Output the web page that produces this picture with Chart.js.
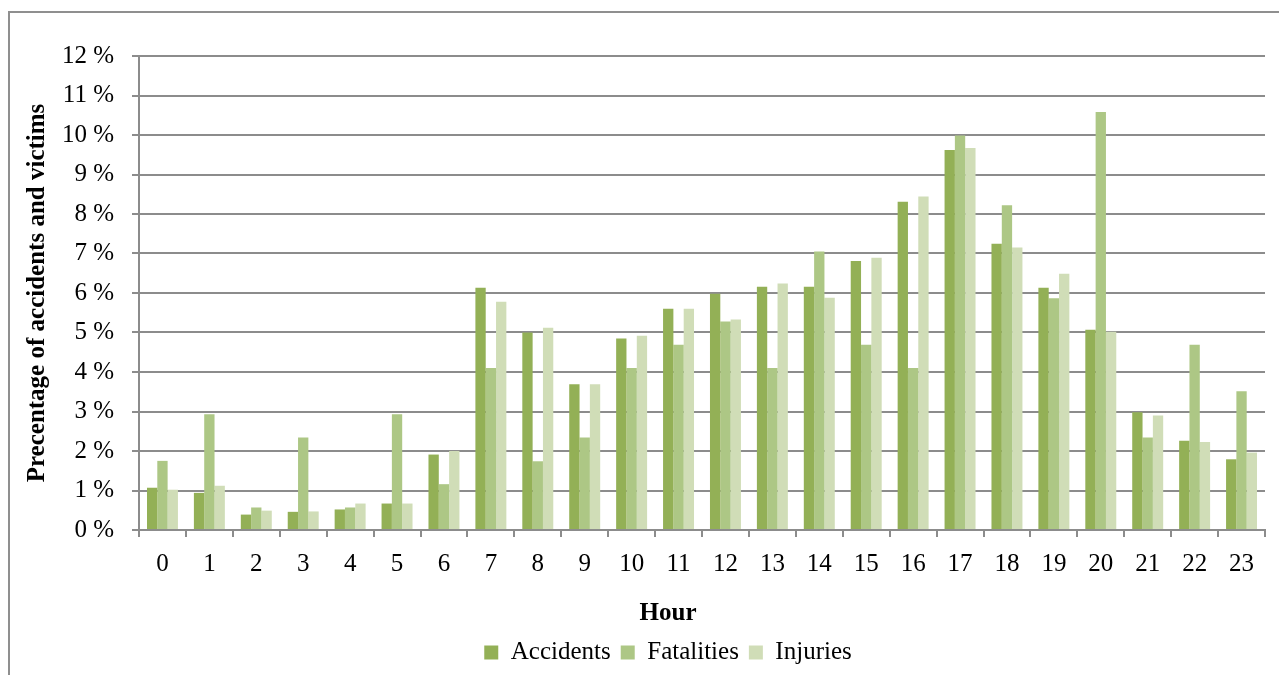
<!DOCTYPE html>
<html>
<head>
<meta charset="utf-8">
<script src="https://cdn.jsdelivr.net/npm/chart.js@4.4.0/dist/chart.umd.min.js"></script>
<style>
  html, body { margin: 0; padding: 0; overflow: hidden; background: #fff; }
  #frame {
    position: absolute; left: 8px; top: 11px;
    width: 1303px; height: 700px;
    border: 2px solid #8f8f8f;
  }
  #myBarChart { position: absolute; left: 0; top: 0; }
</style>
</head>
<body>
<div id="frame">
  <canvas id="myBarChart" width="1303" height="662"></canvas>
</div>
<script>
// hours of the day (x axis)
var hours = ["0","1","2","3","4","5","6","7","8","9","10","11","12","13","14","15","16","17","18","19","20","21","22","23"];

// percentage per hour
var accidents  = [1.07, 0.94, 0.39, 0.46, 0.52, 0.67, 1.91, 6.13, 5.00, 3.69, 4.85, 5.60, 5.98, 6.16, 6.16, 6.81, 8.31, 9.62, 7.25, 6.13, 5.07, 2.98, 2.26, 1.79];
var fatalities = [1.75, 2.93, 0.57, 2.34, 0.57, 2.93, 1.16, 4.10, 1.74, 2.34, 4.10, 4.69, 5.28, 4.10, 7.05, 4.69, 4.10, 9.99, 8.22, 5.87, 10.58, 2.34, 4.69, 3.51];
var injuries   = [1.02, 1.12, 0.49, 0.47, 0.67, 0.67, 2.00, 5.78, 5.12, 3.69, 4.92, 5.60, 5.33, 6.24, 5.88, 6.89, 8.44, 9.67, 7.15, 6.49, 5.02, 2.90, 2.23, 1.96];

// y axis ticks, 0 % .. 12 %
var yTicks = [0, 1, 2, 3, 4, 5, 6, 7, 8, 9, 10, 11, 12];

var serif = "'Liberation Serif', 'Times New Roman', serif";
var gridGray = "#8c8c8c";

var ctx = document.getElementById("myBarChart").getContext("2d");

var myBarChart = new Chart(ctx, {
  type: "bar",
  data: {
    labels: hours,
    datasets: [
      { label: "Accidents",  data: accidents,  backgroundColor: "#93b056" },
      { label: "Fatalities", data: fatalities, backgroundColor: "#adc785" },
      { label: "Injuries",   data: injuries,   backgroundColor: "#d0ddb7" }
    ]
  },
  options: {
    responsive: false,
    animation: false,
    devicePixelRatio: 1,
    categoryPercentage: 0.66,
    barPercentage: 1.0,
    layout: { padding: { left: 13, top: 43, right: 0, bottom: 0 } },
    plugins: {
      tooltip: { enabled: false },
      title: {
        display: true,
        text: "Hour",
        position: "bottom",
        weight: 500, // sit between the axis and the legend
        color: "#000",
        font: { family: serif, size: 25, weight: "bold" },
        padding: { top: 8, bottom: 1 }
      },
      legend: {
        position: "bottom",
        labels: {
          color: "#000",
          font: { family: serif, size: 25 },
          boxWidth: 14,
          boxHeight: 14,
          padding: 10
        }
      }
    },
    scales: {
      x: {
        grid: {
          display: true,
          drawOnChartArea: false,
          drawTicks: true,
          tickLength: 7,
          color: gridGray,
          lineWidth: 2
        },
        border: { display: true, color: gridGray, width: 2 },
        ticks: {
          color: "#000",
          font: { family: serif, size: 25 },
          padding: 12,
          maxRotation: 0,
          autoSkip: false
        }
      },
      y: {
        min: 0,
        max: 12,
        afterBuildTicks: function (scale) {
          scale.ticks = yTicks.map(function (v) { return { value: v }; });
        },
        afterFit: function (scale) { scale.width = 116; },
        grid: { color: gridGray, lineWidth: 2, tickLength: 7 },
        border: { display: true, color: gridGray, width: 2 },
        ticks: {
          color: "#000",
          font: { family: serif, size: 25 },
          padding: 18,
          callback: function (v) { return v + " %"; }
        },
        title: {
          display: true,
          text: "Precentage of accidents and victims",
          color: "#000",
          font: { family: serif, size: 25, weight: "bold" },
          padding: { top: 0, bottom: 8 }
        }
      },
      // empty right-hand box, keeps the plot right edge clear of the frame
      yRight: {
        position: "right",
        display: true,
        grid: { display: false },
        border: { display: false },
        ticks: { display: false },
        afterFit: function (scale) { scale.width = 48; }
      }
    }
  }
});
</script>
</body>
</html>
